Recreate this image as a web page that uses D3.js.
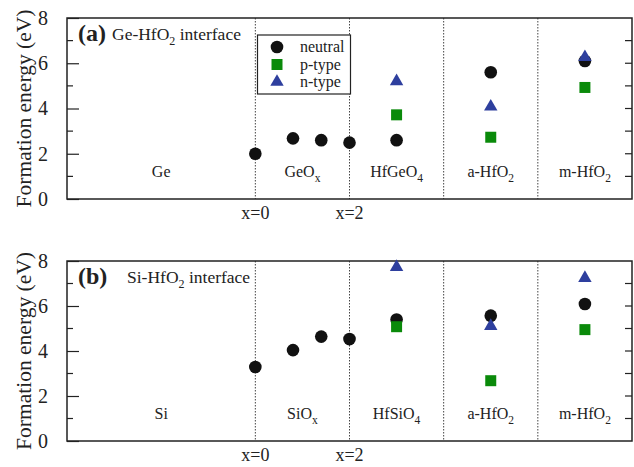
<!DOCTYPE html>
<html>
<head>
<meta charset="utf-8">
<script src="https://cdn.jsdelivr.net/npm/d3@7"></script>
<style>
  body { margin: 0; background: #fff; }
</style>
</head>
<body>
<svg id="chart" width="634" height="467" font-family="Liberation Serif" fill="#222"></svg>
<script>
// region boundaries and labels (x position in "region units")
const boundaries = [2, 3, 4, 5];
const boundaryLabels = [{x: 2, t: "x=0"}, {x: 3, t: "x=2"}];
const neutralPos = [2, 2.4, 2.7, 3, 3.5, 4.5, 5.5];
const chargedPos = [3.5, 4.5, 5.5];

// panel (a) Ge-HfO2
const geNeutral = [2.0, 2.68, 2.6, 2.49, 2.6, 5.6, 6.1];
const geP = [3.72, 2.73, 4.93];
const geN = [5.2, 4.08, 6.27];
const geRegions = [["Ge", ""], ["GeO", "x"], ["HfGeO", "4"], ["a-HfO", "2"], ["m-HfO", "2"]];

// panel (b) Si-HfO2
const siNeutral = [3.29, 4.04, 4.64, 4.53, 5.4, 5.57, 6.09];
const siP = [5.08, 2.68, 4.95];
const siN = [7.73, 5.11, 7.24];
const siRegions = [["Si", ""], ["SiO", "x"], ["HfSiO", "4"], ["a-HfO", "2"], ["m-HfO", "2"]];

const regionCenters = [1, 2.5, 3.5, 4.5, 5.5];
const yTicks = [0, 2, 4, 6, 8];

const green = "#0a8a0a", blue = "#2e3f9e";
const FONT = "Liberation Serif";
const svg = d3.select("#chart");
const x = d3.scaleLinear().domain([0, 6]).range([67, 632]);

function panel(top, bottom, letter, sys, neutral, pT, nT, regions, legend) {
  const y = d3.scaleLinear().domain([0, 8]).range([bottom, top]);
  const g = svg.append("g");

  // vertical dotted separators
  g.selectAll(".sep").data(boundaries).enter().append("line")
    .attr("x1", d => x(d)).attr("x2", d => x(d))
    .attr("y1", top).attr("y2", bottom)
    .attr("stroke", "#444").attr("stroke-width", 1)
    .attr("stroke-dasharray", "1.5,1.5");

  // frame
  g.append("rect").attr("x", x(0)).attr("y", top)
    .attr("width", x(6) - x(0)).attr("height", bottom - top)
    .attr("fill", "none").attr("stroke", "#222").attr("stroke-width", 1.5);

  // left axis
  const left = d3.axisLeft(y).tickValues(yTicks).tickSize(-12).tickPadding(19);
  g.append("g").attr("transform", "translate(" + x(0) + ",0)").call(left)
    .attr("font-family", FONT)
    .call(a => a.select(".domain").remove())
    .call(a => a.selectAll("line").attr("stroke", "#222").attr("stroke-width", 1.2))
    .call(a => a.selectAll("text").attr("font-size", 20).attr("fill", "#222"));
  // minor left ticks
  g.selectAll(".mn").data([1, 3, 5, 7]).enter().append("line")
    .attr("x1", x(0)).attr("x2", x(0) + 6)
    .attr("y1", d => y(d)).attr("y2", d => y(d))
    .attr("stroke", "#222").attr("stroke-width", 1.2);
  // right ticks
  g.selectAll(".rt").data(d3.range(1, 8)).enter().append("line")
    .attr("x1", x(6)).attr("x2", x(6) - 7)
    .attr("y1", d => y(d)).attr("y2", d => y(d))
    .attr("stroke", "#222").attr("stroke-width", 1.2);

  // y label
  g.append("text")
    .attr("transform", "translate(31," + ((top + bottom) / 2) + ") rotate(-90)")
    .attr("text-anchor", "middle").attr("font-size", 21.5).attr("font-family", FONT)
    .text("Formation energy (eV)");

  // panel title
  const t = g.append("text").attr("x", 78).attr("y", top + 23).attr("font-family", FONT);
  t.append("tspan").attr("font-weight", "bold").attr("font-size", 24).text("(" + letter + ")");
  const t2 = g.append("text").attr("x", letter === "a" ? 112 : 127).attr("y", top + 22)
    .attr("font-size", 17.5).attr("font-family", FONT);
  t2.append("tspan").text(sys + "-HfO");
  t2.append("tspan").attr("font-size", 12).attr("dy", 5).text("2");
  t2.append("tspan").attr("dy", -5).text(" interface");

  // region labels
  regions.forEach((r, i) => {
    const lt = g.append("text").attr("x", x(regionCenters[i])).attr("y", bottom - 22)
      .attr("text-anchor", "middle").attr("font-size", 16).attr("font-family", FONT);
    lt.append("tspan").text(r[0]);
    if (r[1]) lt.append("tspan").attr("font-size", 11.5).attr("dy", 5).text(r[1]);
  });

  // x=0 / x=2 labels
  g.selectAll(".bl").data(boundaryLabels).enter().append("text")
    .attr("x", d => x(d.x)).attr("y", bottom + 20)
    .attr("text-anchor", "middle").attr("font-size", 18).attr("font-family", FONT)
    .text(d => d.t);

  // markers
  const circ = d3.symbol().type(d3.symbolCircle).size(125);
  const sq = d3.symbol().type(d3.symbolSquare).size(121);
  const tri = d3.symbol().type(d3.symbolTriangle).size(78);
  g.selectAll(".nu").data(neutral).enter().append("path")
    .attr("d", circ).attr("fill", "#111")
    .attr("transform", (d, i) => "translate(" + x(neutralPos[i]) + "," + y(d) + ")");
  g.selectAll(".pt").data(pT).enter().append("path")
    .attr("d", sq).attr("fill", green)
    .attr("transform", (d, i) => "translate(" + x(chargedPos[i]) + "," + y(d) + ")");
  g.selectAll(".nt").data(nT).enter().append("path")
    .attr("d", tri).attr("fill", blue)
    .attr("transform", (d, i) => "translate(" + x(chargedPos[i]) + "," + y(d) + ")");

  if (legend) {
    const lg = g.append("g");
    lg.append("rect").attr("x", 257.5).attr("y", 35).attr("width", 93).attr("height", 59)
      .attr("fill", "#fff").attr("stroke", "#222").attr("stroke-width", 1.2);
    const items = [["neutral", circ, "#111"], ["p-type", sq, green], ["n-type", tri, blue]];
    items.forEach((it, i) => {
      const ry = 47 + i * 17.5;
      lg.append("path").attr("d", it[1]).attr("fill", it[2])
        .attr("transform", "translate(277," + ry + ")");
      lg.append("text").attr("x", 300).attr("y", ry + 5).attr("font-size", 16)
        .attr("font-family", FONT).text(it[0]);
    });
  }
}

panel(18, 199, "a", "Ge", geNeutral, geP, geN, geRegions, true);
panel(261, 441, "b", "Si", siNeutral, siP, siN, siRegions, false);
</script>
</body>
</html>
